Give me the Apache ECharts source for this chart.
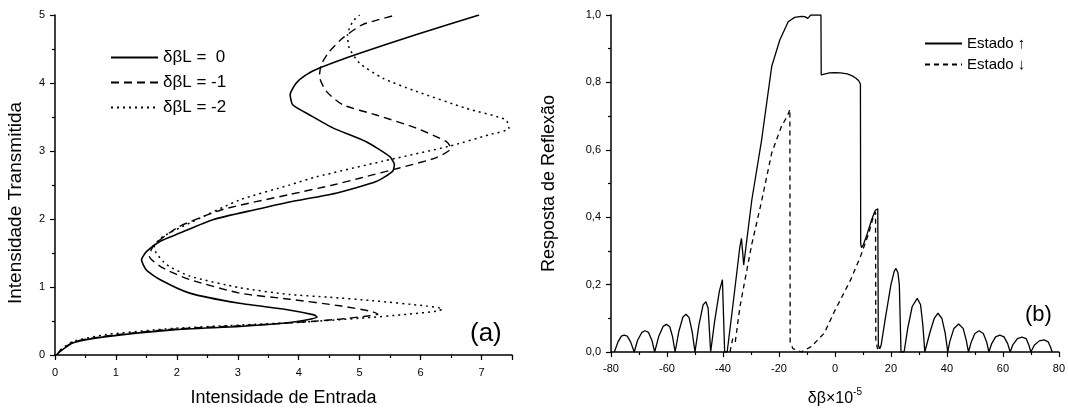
<!DOCTYPE html>
<html>
<head>
<meta charset="utf-8">
<script src="https://cdn.jsdelivr.net/npm/echarts@6/dist/echarts.min.js"></script>
<style>
  html, body { margin: 0; padding: 0; background: #fff; }
  #chart { width: 1068px; height: 414px; }
</style>
</head>
<body>
<div id="chart"></div>
<script>
// (a) bistable curves: [input intensity, transmitted intensity], in drawing order
const legendA = ['δβL =  0', 'δβL = -1', 'δβL = -2']
const curve0 = [
  [0.03, 0.0], [0.08, 0.05], [0.3, 0.18], [0.84, 0.27], [1.93, 0.37], [3.03, 0.42],
  [3.79, 0.47], [4.1, 0.51], [4.3, 0.56], [4.25, 0.59], [3.79, 0.67], [3.03, 0.76],
  [2.21, 0.91], [1.72, 1.11], [1.5, 1.25], [1.42, 1.4], [1.5, 1.52], [1.72, 1.67],
  [2.04, 1.79], [2.59, 1.99], [3.3, 2.14], [3.85, 2.25], [4.61, 2.38], [5.27, 2.55],
  [5.54, 2.7], [5.57, 2.8], [5.49, 2.92], [5.1, 3.14], [4.56, 3.34], [4.18, 3.53],
  [3.9, 3.68], [3.86, 3.83], [3.96, 4.0], [4.12, 4.12], [4.34, 4.22], [4.94, 4.42],
  [5.92, 4.71], [6.96, 5.0]
]
const curve1 = [
  [0.03, 0.0], [0.08, 0.06], [0.3, 0.19], [0.84, 0.28], [1.93, 0.38], [3.03, 0.43],
  [3.8, 0.47], [4.3, 0.5], [4.7, 0.53], [5.1, 0.57], [5.3, 0.6], [5.2, 0.64],
  [4.7, 0.72], [3.85, 0.82], [3.03, 0.91], [2.21, 1.11], [1.77, 1.28], [1.55, 1.45],
  [1.58, 1.55], [1.66, 1.65], [2.04, 1.89], [2.75, 2.14], [3.85, 2.36], [4.56, 2.5],
  [5.0, 2.6], [5.65, 2.75], [6.25, 2.9], [6.5, 3.04], [6.42, 3.14], [5.92, 3.34],
  [5.27, 3.53], [4.72, 3.68], [4.45, 3.88], [4.34, 4.1], [4.37, 4.27], [4.5, 4.46],
  [4.72, 4.66], [5.05, 4.86], [5.6, 5.0]
]
const curve2 = [
  [0.03, 0.0], [0.08, 0.07], [0.3, 0.2], [0.84, 0.3], [1.93, 0.39], [3.03, 0.44],
  [4.0, 0.48], [5.0, 0.54], [5.8, 0.6], [6.3, 0.65], [6.36, 0.68], [6.1, 0.72],
  [5.2, 0.8], [4.5, 0.85], [3.85, 0.89], [3.03, 0.99], [2.21, 1.16], [1.83, 1.33],
  [1.66, 1.5], [1.63, 1.6], [1.77, 1.74], [2.21, 1.94], [3.03, 2.28], [3.85, 2.5],
  [4.29, 2.62], [5.38, 2.85], [6.47, 3.07], [7.13, 3.24], [7.45, 3.33], [7.4, 3.46],
  [6.74, 3.63], [5.92, 3.88], [5.38, 4.07], [5.0, 4.29], [4.83, 4.51], [4.8, 4.71],
  [4.89, 4.91], [5.0, 5.0]
]

// (b) reflection response: [δβ ×1e-5, reflectance]
const legendB = ['Estado ↑', 'Estado ↓']
const stateUp = [
  [-78.8, 0], [-77.5, 0.03], [-76.3, 0.047], [-75.3, 0.05], [-74.2, 0.047], [-73, 0.03], [-71.7, 0],
  [-70.5, 0.035], [-69, 0.058], [-67.8, 0.063], [-66.6, 0.058], [-65.4, 0.035], [-64.4, 0],
  [-63, 0.045], [-61.4, 0.076], [-60.2, 0.082], [-59, 0.075], [-58, 0.045], [-57.1, 0],
  [-55.8, 0.06], [-54.3, 0.104], [-53.2, 0.112], [-52.1, 0.102], [-51, 0.06], [-50, 0],
  [-48.6, 0.08], [-47.1, 0.14], [-46.1, 0.149], [-45.3, 0.13], [-44.4, 0],
  [-43, 0.09], [-41.3, 0.18], [-40.2, 0.215], [-39.7, 0.22], [-39.4, 0], [-38.5, 0],
  [-36, 0.17], [-34, 0.31], [-33.4, 0.337], [-32.9, 0.29], [-32.6, 0.258],
  [-29.7, 0.451], [-26.2, 0.629], [-22.6, 0.847], [-19.7, 0.926], [-16.7, 0.98],
  [-14.4, 0.993], [-12, 0.996], [-10.8, 0.995], [-9.7, 0.99], [-8.6, 1.0], [-5.0, 1.0],
  [-4.9, 0.822], [-4.2, 0.822], [-2, 0.828], [-0.25, 0.829], [2, 0.828], [4.4, 0.825],
  [6, 0.82], [7.4, 0.813], [8.5, 0.805], [9.1, 0.795], [9.2, 0.32], [9.5, 0.31],
  [10.1, 0.317], [11.5, 0.35], [13, 0.39], [14.4, 0.42], [15.0, 0.425], [15.3, 0.425],
  [15.5, 0.02], [16, 0.01], [16.5, 0.02], [18, 0.1], [20, 0.2], [21.2, 0.24],
  [21.8, 0.248], [22.5, 0.235], [23.0, 0.2], [23.6, 0],
  [24.7, 0], [26, 0.07], [27.6, 0.135], [29.4, 0.159], [30.6, 0.14], [31.4, 0.08], [32.1, 0],
  [32.7, 0], [34, 0.06], [35.5, 0.1], [36.8, 0.115], [38.2, 0.1], [39.4, 0.055], [40.3, 0],
  [41, 0.03], [42.5, 0.07], [44.2, 0.083], [45.8, 0.07], [46.9, 0.035], [47.7, 0],
  [48.7, 0.03], [50, 0.055], [51.5, 0.063], [53, 0.055], [54.2, 0.03], [55, 0],
  [56, 0.025], [57.4, 0.045], [58.9, 0.05], [60.4, 0.045], [61.7, 0.025], [62.6, 0],
  [63.6, 0.022], [65.2, 0.04], [66.8, 0.044], [68.3, 0.04], [69.3, 0.02], [70, 0],
  [71.2, 0.02], [73, 0.033], [74.7, 0.036], [76.2, 0.03], [77, 0.015], [77.6, 0]
]
const stateDown = [
  [-37.5, 0], [-36.5, 0.04], [-35.6, 0.03], [-34.5, 0.1], [-33.8, 0.14], [-32, 0.22],
  [-29.7, 0.32], [-26.4, 0.44], [-22.6, 0.59], [-19.1, 0.67], [-17, 0.7], [-16.1, 0.72],
  [-16.0, 0.03], [-15, 0.01], [-12, 0], [-8.5, 0.016], [-3.8, 0.056], [-0.2, 0.12],
  [5.6, 0.214], [9.1, 0.283], [12, 0.35], [13.9, 0.407], [14.5, 0.415], [14.6, 0.036],
  [15.2, 0.01], [15.6, 0.01]
]

const font = 'Liberation Sans, Arial, sans-serif'
const black = '#000'

function axisBase () {
  return {
    axisLine: { onZero: false, lineStyle: { color: black, width: 1.5 } },
    axisTick: { length: 5, lineStyle: { color: black, width: 1.2 } },
    minorTick: { show: true, splitNumber: 2, length: 3, lineStyle: { color: black, width: 1.2 } },
    axisLabel: { color: black, fontSize: 11, fontFamily: font },
    splitLine: { show: false },
    nameTextStyle: { color: black, fontSize: 18, fontFamily: font }
  }
}

const chart = echarts.init(document.getElementById('chart'))
const option = {
  backgroundColor: '#fff',
  animation: false,
  grid: [
    { left: 55, top: 15, width: 457, height: 340 },
    { left: 611, top: 15, width: 453, height: 337 }
  ],
  xAxis: [
    Object.assign(axisBase(), {
      type: 'value', gridIndex: 0, min: 0, max: 7.5, interval: 1,
      minorTick: { show: false },
      axisLabel: { color: black, fontSize: 11, fontFamily: font, margin: 12,
        formatter: v => Number.isInteger(v) ? String(v) : '' },
      name: 'Intensidade de Entrada', nameLocation: 'middle', nameGap: 34
    }),
    Object.assign(axisBase(), {
      type: 'value', gridIndex: 1, min: -80, max: 80, interval: 20,
      axisLabel: { color: black, fontSize: 11, fontFamily: font, margin: 11 },
      name: '{a|δβ×10}{s|-5}', nameLocation: 'middle', nameGap: 35,
      nameTextStyle: {
        rich: {
          a: { color: black, fontSize: 16, fontFamily: font, lineHeight: 24 },
          s: { color: black, fontSize: 10, fontFamily: font, lineHeight: 10, verticalAlign: 'top' }
        }
      }
    }),
    // minor ticks for (a) x axis (every 0.5)
    {
      type: 'value', gridIndex: 0, min: 0, max: 7.5, interval: 0.5, position: 'bottom',
      axisLine: { show: false, onZero: false },
      axisTick: { length: 3, lineStyle: { color: black, width: 1.2 } },
      axisLabel: { show: false },
      splitLine: { show: false }
    }
  ],
  yAxis: [
    Object.assign(axisBase(), {
      type: 'value', gridIndex: 0, min: 0, max: 5, interval: 1,
      axisLabel: { color: black, fontSize: 11, fontFamily: font, margin: 10 },
      name: 'Intensidade Transmitida', nameLocation: 'middle', nameGap: 30,
      nameTextStyle: { color: black, fontSize: 19, fontFamily: font, padding: [0, 36, 0, 0] }
    }),
    Object.assign(axisBase(), {
      type: 'value', gridIndex: 1, min: 0, max: 1, interval: 0.2,
      axisLabel: { color: black, fontSize: 11, fontFamily: font, margin: 10,
        formatter: v => v.toFixed(1).replace('.', ',') },
      name: 'Resposta de Reflexão', nameLocation: 'middle', nameGap: 53
    })
  ],
  legend: [
    {
      data: legendA, orient: 'vertical', left: 105, top: 44,
      itemWidth: 47, itemHeight: 14, itemGap: 8,
      itemStyle: { opacity: 0 },
      textStyle: { color: black, fontSize: 17, fontFamily: font }
    },
    {
      data: legendB, orient: 'vertical', left: 919, top: 31,
      itemWidth: 37, itemHeight: 12, itemGap: 6,
      itemStyle: { opacity: 0 },
      textStyle: { color: black, fontSize: 15, fontFamily: font }
    }
  ],
  graphic: [
    { type: 'text', left: 470, top: 321, style: { text: '(a)', fontSize: 26, fontFamily: font, fill: black } },
    { type: 'text', left: 1025, top: 304, style: { text: '(b)', fontSize: 22, fontFamily: font, fill: black } }
  ],
  series: [
    { name: legendA[0], type: 'line', xAxisIndex: 0, yAxisIndex: 0, data: curve0, symbol: 'none', smooth: 0.2,
      lineStyle: { color: black, width: 1.6, type: 'solid' }, itemStyle: { color: black } },
    { name: legendA[1], type: 'line', xAxisIndex: 0, yAxisIndex: 0, data: curve1, symbol: 'none', smooth: 0.2,
      lineStyle: { color: black, width: 1.4, type: [8, 5] }, itemStyle: { color: black } },
    { name: legendA[2], type: 'line', xAxisIndex: 0, yAxisIndex: 0, data: curve2, symbol: 'none', smooth: 0.2,
      lineStyle: { color: black, width: 1.5, type: [2, 4] }, itemStyle: { color: black } },
    { name: legendB[0], type: 'line', xAxisIndex: 1, yAxisIndex: 1, data: stateUp, symbol: 'none',
      lineStyle: { color: black, width: 1.3, type: 'solid' }, itemStyle: { color: black } },
    { name: legendB[1], type: 'line', xAxisIndex: 1, yAxisIndex: 1, data: stateDown, symbol: 'none',
      lineStyle: { color: black, width: 1.3, type: [5, 4] }, itemStyle: { color: black } }
  ]
}
chart.setOption(option)
</script>
</body>
</html>
